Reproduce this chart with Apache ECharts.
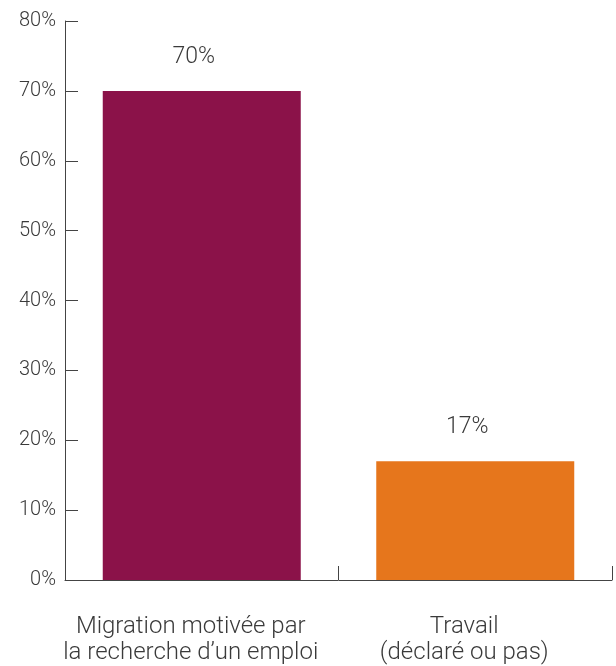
<!DOCTYPE html>
<html>
<head>
<meta charset="utf-8">
<script src="https://cdn.jsdelivr.net/npm/echarts@6/dist/echarts.min.js"></script>
<style>
  html, body { margin: 0; padding: 0; background: #fff; }
  #chart { width: 616px; height: 666px; }
</style>
</head>
<body>
<div id="chart"></div>
<script>
const categories = ['Migration motivée par\nla recherche d\u2019un emploi', 'Travail\n(déclaré ou pas)']
const values = [70, 17]
const barColors = ['#8B1249', '#E6761C']
const yTicks = [0, 10, 20, 30, 40, 50, 60, 70, 80]

var chartDom = document.getElementById('chart');
var myChart = echarts.init(chartDom);
var option;
option = {
  backgroundColor: '#fff',
  animation: false,
  textStyle: { fontFamily: 'Roboto' },
  grid: { left: 65, right: 4, top: 21, bottom: 86 },
  xAxis: {
    type: 'category',
    data: categories,
    axisLine: { lineStyle: { color: '#444', width: 1 } },
    axisTick: { show: true, inside: true, length: 14, interval: 0, lineStyle: { color: '#444', width: 1 } },
    axisLabel: {
      interval: 0, hideOverlap: false,
      color: '#3a3a3a', fontSize: 24, fontWeight: 300, lineHeight: 26, margin: 34,
      padding: [0, 22, 0, 0],
      fontFamily: 'Roboto'
    }
  },
  yAxis: {
    type: 'value',
    min: yTicks[0],
    max: yTicks[yTicks.length - 1],
    interval: 10,
    axisLine: { show: true, lineStyle: { color: '#444', width: 1 } },
    axisTick: { show: true, inside: true, length: 13, lineStyle: { color: '#444' } },
    splitLine: { show: false },
    axisLabel: {
      color: '#3a3a3a', fontSize: 20, fontWeight: 300, margin: 9,
      fontFamily: 'Roboto', formatter: '{value}%'
    }
  },
  series: [{
    type: 'bar',
    barWidth: 198,
    data: values.map((v, i) => ({ value: v, itemStyle: { color: barColors[i] } })),
    label: {
      show: true, position: 'top', distance: 22,
      padding: [0, 16, 0, 0],
      color: '#3a3a3a', fontSize: 23, fontWeight: 300, fontFamily: 'Roboto',
      formatter: '{c}%'
    }
  }]
};
option && myChart.setOption(option);
</script>
</body>
</html>
